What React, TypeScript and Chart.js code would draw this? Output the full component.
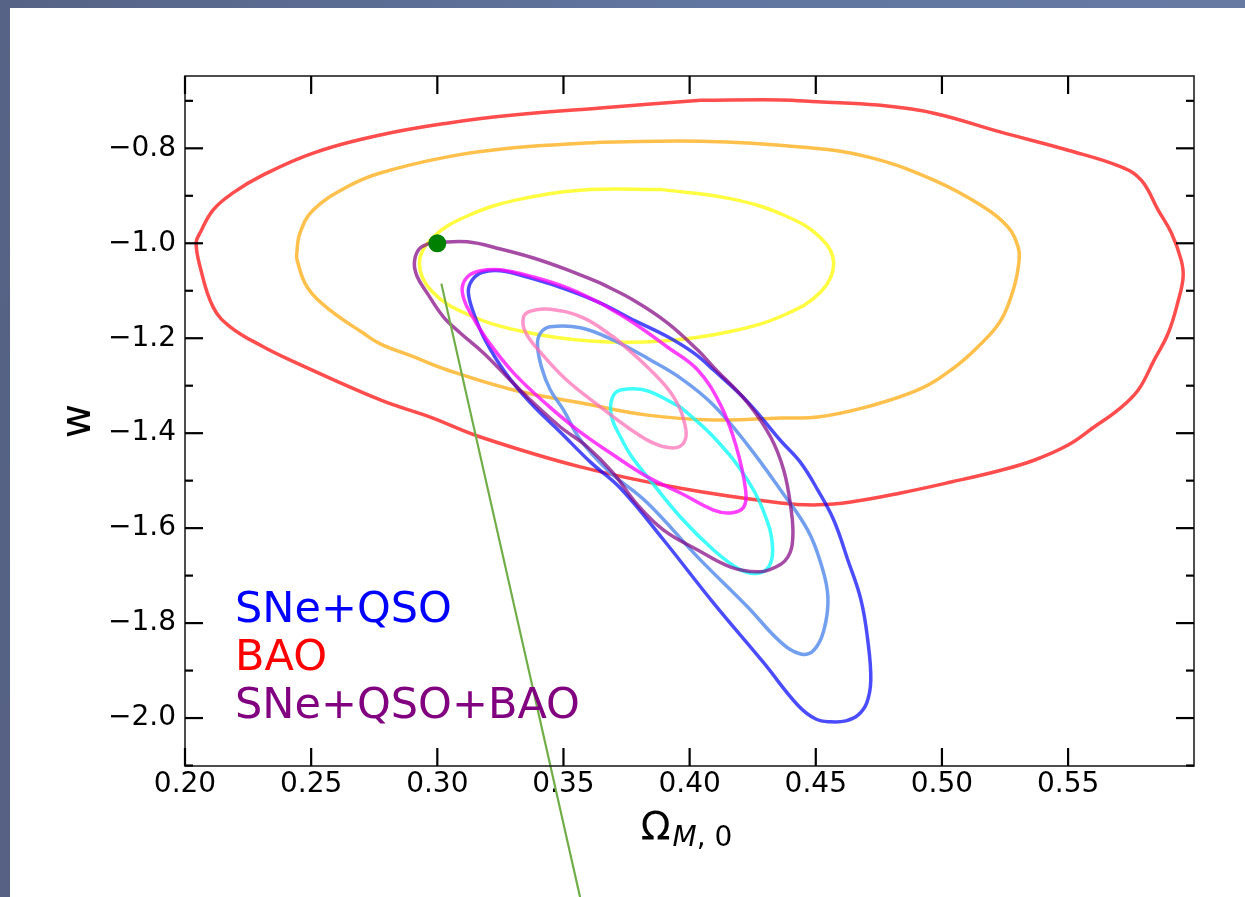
import React, { useEffect, useRef } from 'react';
import { Chart, registerables } from 'chart.js';

Chart.register(...registerables);

// ---------- data (Omega_M,0 , w) ----------
// BAO contours
const baoOuterOm = [0.4044,0.4361,0.4508,0.4746,0.4968,0.5234,0.5500,0.5710,0.5790,0.5857,0.5909,0.5948,0.5956,0.5937,0.5897,0.5841,0.5778,0.5698,0.5603,0.5500,0.5365,0.5234,0.5036,0.4837,0.4639,0.4508,0.4361,0.3964,0.3567,0.3171,0.2972,0.2774,0.2417,0.2310,0.2179,0.2111,0.2060,0.2044,0.2060,0.2111,0.2190,0.2310,0.2508,0.2774,0.3040,0.3302,0.3647,0.4044];
const baoOuterW = [-0.699,-0.698,-0.702,-0.709,-0.726,-0.766,-0.804,-0.839,-0.867,-0.930,-0.978,-1.035,-1.071,-1.120,-1.189,-1.246,-1.309,-1.351,-1.387,-1.425,-1.457,-1.478,-1.503,-1.526,-1.545,-1.551,-1.547,-1.516,-1.471,-1.408,-1.366,-1.330,-1.246,-1.218,-1.176,-1.134,-1.050,-0.999,-0.978,-0.930,-0.894,-0.856,-0.810,-0.772,-0.747,-0.730,-0.715,-0.699];
const baoMidOm = [0.3647,0.4044,0.4440,0.4706,0.4968,0.5167,0.5262,0.5302,0.5306,0.5286,0.5234,0.5143,0.5036,0.4905,0.4706,0.4508,0.4361,0.4095,0.3833,0.3567,0.3302,0.3040,0.2905,0.2774,0.2706,0.2575,0.2484,0.2444,0.2443,0.2456,0.2508,0.2643,0.2774,0.3040,0.3302,0.3647];
const baoMidW = [-0.787,-0.785,-0.797,-0.818,-0.867,-0.924,-0.966,-1.008,-1.035,-1.092,-1.162,-1.218,-1.267,-1.309,-1.344,-1.366,-1.368,-1.372,-1.362,-1.336,-1.309,-1.267,-1.239,-1.212,-1.189,-1.141,-1.092,-1.035,-1.021,-0.978,-0.930,-0.881,-0.852,-0.818,-0.799,-0.787];
const baoInnerOm = [0.3893,0.3607,0.3339,0.3121,0.2978,0.2929,0.2978,0.3121,0.3339,0.3607,0.3893,0.4161,0.4379,0.4522,0.4571,0.4522,0.4379,0.4161,0.3893];
const baoInnerW = [-0.887,-0.887,-0.906,-0.942,-0.990,-1.042,-1.101,-1.150,-1.186,-1.206,-1.206,-1.186,-1.150,-1.101,-1.042,-0.990,-0.942,-0.906,-0.887];

// SNe+QSO contours
const snOuterOm = [0.3778,0.3913,0.4016,0.4095,0.4230,0.4361,0.4440,0.4508,0.4571,0.4627,0.4679,0.4706,0.4718,0.4702,0.4667,0.4619,0.4560,0.4500,0.4429,0.4294,0.4095,0.3897,0.3726,0.3607,0.3488,0.3369,0.3270,0.3190,0.3147,0.3123,0.3139,0.3179,0.3250,0.3381,0.3516,0.3647,0.3778];
const snOuterW = [-1.162,-1.197,-1.231,-1.267,-1.334,-1.416,-1.462,-1.520,-1.583,-1.667,-1.751,-1.836,-1.920,-1.968,-1.994,-2.006,-2.008,-2.002,-1.973,-1.884,-1.758,-1.625,-1.516,-1.461,-1.398,-1.336,-1.273,-1.204,-1.151,-1.103,-1.077,-1.061,-1.058,-1.075,-1.098,-1.126,-1.162];
const snMidOm = [0.3833,0.3964,0.4095,0.4230,0.4361,0.4468,0.4520,0.4548,0.4532,0.4492,0.4440,0.4361,0.4230,0.4032,0.3833,0.3675,0.3567,0.3500,0.3448,0.3413,0.3397,0.3409,0.3448,0.3567,0.3698,0.3833];
const snMidW = [-1.242,-1.284,-1.341,-1.425,-1.520,-1.604,-1.674,-1.745,-1.815,-1.857,-1.865,-1.840,-1.766,-1.661,-1.547,-1.478,-1.414,-1.351,-1.309,-1.261,-1.214,-1.189,-1.176,-1.178,-1.204,-1.242];
const snInnerOm = [0.3964,0.4095,0.4230,0.4310,0.4329,0.4313,0.4270,0.4202,0.4095,0.3964,0.3833,0.3766,0.3726,0.3694,0.3687,0.3706,0.3754,0.3833,0.3964];
const snInnerW = [-1.345,-1.408,-1.499,-1.589,-1.646,-1.682,-1.695,-1.688,-1.646,-1.577,-1.492,-1.446,-1.408,-1.372,-1.341,-1.315,-1.307,-1.311,-1.345];

// SNe+QSO+BAO contours
const allOuterOm = [0.3647,0.3778,0.3913,0.4032,0.4095,0.4230,0.4321,0.4373,0.4401,0.4409,0.4389,0.4333,0.4270,0.4163,0.4032,0.3897,0.3794,0.3694,0.3595,0.3488,0.3381,0.3278,0.3183,0.3091,0.3024,0.2960,0.2921,0.2909,0.2925,0.2960,0.3000,0.3119,0.3250,0.3381,0.3516,0.3647];
const allOuterW = [-1.084,-1.120,-1.168,-1.225,-1.261,-1.336,-1.408,-1.478,-1.556,-1.619,-1.661,-1.684,-1.692,-1.682,-1.646,-1.604,-1.551,-1.482,-1.429,-1.387,-1.336,-1.282,-1.231,-1.189,-1.155,-1.105,-1.071,-1.042,-1.014,-1.002,-0.999,-0.997,-1.012,-1.031,-1.056,-1.084];
const allMidOm = [0.3647,0.3778,0.3913,0.4032,0.4123,0.4183,0.4222,0.4214,0.4163,0.4095,0.3964,0.3833,0.3698,0.3567,0.3437,0.3302,0.3198,0.3131,0.3107,0.3099,0.3123,0.3171,0.3250,0.3381,0.3516,0.3647];
const allMidW = [-1.126,-1.168,-1.219,-1.267,-1.341,-1.425,-1.520,-1.556,-1.568,-1.562,-1.526,-1.492,-1.446,-1.398,-1.341,-1.273,-1.204,-1.147,-1.120,-1.092,-1.069,-1.058,-1.056,-1.071,-1.094,-1.126];
const allInnerOm = [0.3706,0.3837,0.3937,0.3984,0.3976,0.3933,0.3857,0.3758,0.3647,0.3508,0.3401,0.3349,0.3341,0.3369,0.3448,0.3579,0.3706];
const allInnerW = [-1.200,-1.263,-1.324,-1.389,-1.421,-1.431,-1.421,-1.389,-1.345,-1.286,-1.225,-1.187,-1.157,-1.143,-1.139,-1.157,-1.200];

// LCDM reference point and pointer line
const lcdmOm = [0.30];
const lcdmW = [-1.0];
const pointerOm = [0.3016, 0.3567];
const pointerW = [-1.085, -2.38];

// axes
const xMin = 0.2, xMax = 0.5999, xStep = 0.05;
const yMin = -2.101, yMax = -0.6477, yStep = 0.1;

// legend
const legendLabels = ['SNe+QSO', 'BAO', 'SNe+QSO+BAO'];
const legendColors = ['#0000ff', '#ff0000', '#800080'];

const FONT = '"DejaVu Sans", "Liberation Sans", sans-serif';

const pts = (xs: number[], ys: number[]) => xs.map((x, i) => ({ x, y: ys[i] }));

const contour = (xs: number[], ys: number[], color: string) => ({
  data: pts(xs, ys),
  showLine: true,
  borderColor: color,
  borderWidth: 3.5,
  pointRadius: 0,
  fill: false,
  tension: 0.4,
});

export default function App() {
  const ref = useRef<HTMLCanvasElement>(null);

  useEffect(() => {
    const canvas = ref.current;
    if (!canvas) return;

    const decor = {
      id: 'decor',
      afterDraw(chart: any) {
        const { ctx, chartArea: a, scales } = chart;
        const xs = scales.x, ys = scales.y;
        ctx.save();
        const line = (x1: number, y1: number, x2: number, y2: number) => {
          ctx.beginPath(); ctx.moveTo(x1, y1); ctx.lineTo(x2, y2); ctx.stroke();
        };
        // frame
        ctx.strokeStyle = '#222';
        ctx.lineWidth = 1.6;
        ctx.strokeRect(a.left, a.top, a.right - a.left, a.bottom - a.top);
        // ticks (inward)
        ctx.strokeStyle = '#000';
        ctx.lineWidth = 2.2;
        xs.ticks.forEach((t: any) => {
          const p = xs.getPixelForValue(t.value);
          line(p, a.bottom, p, a.bottom - 18);
          line(p, a.top, p, a.top + 18);
        });
        ys.ticks.forEach((t: any) => {
          const major = Math.round(Math.abs(t.value) * 10) % 2 === 0;
          const len = major ? 18 : 8;
          const p = ys.getPixelForValue(t.value);
          line(a.left, p, a.left + len, p);
          line(a.right, p, a.right - len, p);
        });
        // x title: Omega_{M,0}
        ctx.fillStyle = '#000';
        ctx.textAlign = 'left';
        ctx.textBaseline = 'alphabetic';
        const cx = (a.left + a.right) / 2;
        ctx.font = `39px ${FONT}`;
        const wO = ctx.measureText('Ω').width;
        ctx.font = `italic 28px ${FONT}`;
        const wM = ctx.measureText('M').width;
        ctx.font = `28px ${FONT}`;
        const wR = ctx.measureText(', 0').width;
        const x0 = cx - (wO + wM + wR) / 2 - 4;
        ctx.font = `39px ${FONT}`;
        ctx.fillText('Ω', x0, a.bottom + 74);
        ctx.font = `italic 28px ${FONT}`;
        ctx.fillText('M', x0 + wO + 2, a.bottom + 80);
        ctx.font = `28px ${FONT}`;
        ctx.fillText(', 0', x0 + wO + 2 + wM, a.bottom + 80);
        // y title
        ctx.save();
        ctx.translate(a.left - 95, (a.top + a.bottom) / 2);
        ctx.rotate(-Math.PI / 2);
        ctx.textAlign = 'center';
        ctx.font = `42px ${FONT}`;
        ctx.fillText('w', 0, 0);
        ctx.restore();
        // legend (text only)
        ctx.font = `43px ${FONT}`;
        ctx.textAlign = 'left';
        legendLabels.forEach((lab, i) => {
          ctx.fillStyle = legendColors[i];
          ctx.fillText(lab, a.left + 50, a.bottom - 144 + i * 48);
        });
        ctx.restore();
      },
    };

    const chart = new Chart(canvas, {
      type: 'scatter',
      data: {
        datasets: [
          { data: pts(pointerOm, pointerW), showLine: true, borderColor: '#70ad47', borderWidth: 2.2, pointRadius: 0, tension: 0, clip: false } as any,
          { data: pts(lcdmOm, lcdmW), pointRadius: 9, pointBackgroundColor: '#008000', pointBorderWidth: 0, showLine: false },
          contour(allOuterOm, allOuterW, 'rgba(128,0,128,0.7)'),
          contour(allMidOm, allMidW, 'rgba(255,0,255,0.75)'),
          contour(allInnerOm, allInnerW, 'rgba(255,105,180,0.7)'),
          contour(snOuterOm, snOuterW, 'rgba(0,0,255,0.7)'),
          contour(snMidOm, snMidW, 'rgba(100,149,237,0.9)'),
          contour(snInnerOm, snInnerW, 'rgba(0,255,255,0.75)'),
          contour(baoOuterOm, baoOuterW, 'rgba(255,0,0,0.7)'),
          contour(baoMidOm, baoMidW, 'rgba(255,165,0,0.7)'),
          contour(baoInnerOm, baoInnerW, 'rgba(255,255,0,0.75)'),
        ],
      },
      options: {
        animation: false,
        responsive: false,
        devicePixelRatio: 1,
        layout: { padding: { left: 0, top: 76, right: 51, bottom: 0 } },
        plugins: { legend: { display: false }, tooltip: { enabled: false } },
        scales: {
          x: {
            type: 'linear',
            min: xMin,
            max: xMax,
            grid: { display: false, drawTicks: false },
            border: { display: false },
            ticks: {
              stepSize: xStep,
              includeBounds: false,
              autoSkip: false,
              maxRotation: 0,
              minRotation: 0,
              padding: 2,
              color: '#000',
              font: { family: FONT, size: 28 },
              callback: (v: any) => Number(v).toFixed(2),
            },
            afterFit: (s: any) => { s.height = 131; },
          },
          y: {
            type: 'linear',
            min: yMin,
            max: yMax,
            grid: { display: false, drawTicks: false },
            border: { display: false },
            ticks: {
              stepSize: yStep,
              includeBounds: false,
              autoSkip: false,
              padding: 9,
              color: '#000',
              font: { family: FONT, size: 28 },
              callback: (v: any) => {
                const n = Math.round(Number(v) * 10);
                if (n % 2 !== 0) return '';
                return (n / 10).toFixed(1).replace('-', '\u2212');
              },
            },
            afterFit: (s: any) => { s.width = 185; },
          },
        },
      },
      plugins: [decor],
    } as any);

    return () => chart.destroy();
  }, []);

  return (
    <div style={{ position: 'absolute', left: 0, top: 0, width: 1245, height: 897, background: '#fff', overflow: 'hidden' }}>
      <div style={{ position: 'absolute', left: 0, top: 0, width: 1245, height: 8, background: 'linear-gradient(to right, #566386 0%, #6176a0 57%, #667aa2 100%)' }} />
      <div style={{ position: 'absolute', left: 0, top: 0, width: 10, height: 897, background: 'linear-gradient(to bottom, #566386, #566183)' }} />
      <canvas ref={ref} width={1245} height={897} style={{ position: 'absolute', left: 0, top: 0 }} />
    </div>
  );
}
